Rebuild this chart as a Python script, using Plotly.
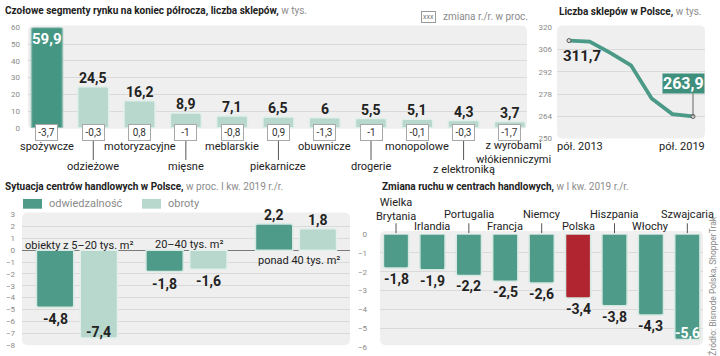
import plotly.graph_objects as go

W, H = 720, 356
def X(p): return p / W
def Y(p): return 1 - p / H

# ---------------- data ----------------
seg_categories = ["spożywcze", "odzieżowe", "motoryzacyjne", "mięsne", "meblarskie",
                  "piekarnicze", "obuwnicze", "drogerie", "monopolowe", "z elektroniką",
                  "z wyrobami<br>włókienniczymi"]
seg_values = [59.9, 24.5, 16.2, 8.9, 7.1, 6.5, 6, 5.5, 5.1, 4.3, 3.7]
seg_change = [-3.7, -0.3, 0.8, -1, -0.8, 0.9, -1.3, -1, -0.1, -0.3, -1.7]

shop_periods = ["pół. 2013", "pół. 2014", "pół. 2015", "pół. 2016", "pół. 2017", "pół. 2018", "pół. 2019"]
shop_counts = [311.7, 311.1, 304.0, 296.1, 275.2, 265.4, 263.9]
shop_ticks = [250, 264, 278, 292, 306, 320]

mall_groups = ["obiekty z 5–20 tys. m²", "20–40 tys. m²", "ponad 40 tys. m²"]
mall_visits = [-4.8, -1.8, 2.2]
mall_turnover = [-7.4, -1.6, 1.8]

countries = ["Wielka<br>Brytania", "Irlandia", "Portugalia", "Francja", "Niemcy",
             "Polska", "Hiszpania", "Włochy", "Szwajcaria"]
traffic = [-1.8, -1.9, -2.2, -2.5, -2.6, -3.4, -3.8, -4.3, -5.6]

# ---------------- style ----------------
COND = "Roboto, sans-serif"
REG = "Roboto, sans-serif"
DARK = "#469684"
TEAL = "#4e9b89"
LIGHT = "#b8d8cd"
RED = "#b0252f"
BG = "#efefef"
GRID = "#dadada"
TICK = dict(size=8, color="#8a8a8a", family=REG)
TXT = "#222222"
VAL = 14
TITLE = 10
LBL = 11

def fmt(v):
    return ("%g" % v).replace(".", ",")

fig = go.Figure()
ann = []
shapes = []

def A(**kw):
    kw.setdefault("showarrow", False)
    kw.setdefault("xanchor", "center")
    kw.setdefault("yanchor", "middle")
    ann.append(kw)

def rrect(x0, y0, x1, y1, r, color):
    rx, ry = r / W, r / H
    a0, b0, a1, b1 = X(x0), Y(y1), X(x1), Y(y0)
    path = (f"M{a0+rx},{b0} L{a1-rx},{b0} Q{a1},{b0} {a1},{b0+ry} "
            f"L{a1},{b1-ry} Q{a1},{b1} {a1-rx},{b1} L{a0+rx},{b1} "
            f"Q{a0},{b1} {a0},{b1-ry} L{a0},{b0+ry} Q{a0},{b0} {a0+rx},{b0} Z")
    shapes.append(dict(type="path", path=path, xref="paper", yref="paper",
                       fillcolor=color, line=dict(width=0), layer="below"))

# backgrounds
rrect(28, 22, 527, 128, 6, BG)
rrect(557, 22, 705, 138, 6, BG)
rrect(22, 214, 350, 350, 6, BG)
rrect(380, 233, 703, 350, 6, BG)

# ---------------- panel 1 ----------------
n1 = len(seg_values)
xs1 = list(range(n1))
fig.add_trace(go.Bar(
    x=xs1, y=seg_values, width=0.67, xaxis="x", yaxis="y",
    marker=dict(color=[DARK] + [LIGHT] * (n1 - 1),
                line=dict(color=["#8fbfb3"] + ["#e2efeb"] * (n1 - 1), width=1.5),
                cornerradius=2),
    hoverinfo="skip", showlegend=False))

for i, v in enumerate(seg_values):
    if i == 0:
        A(x=i, y=v, xref="x", yref="y", text="<b>" + fmt(v) + "</b>", yshift=-11,
          font=dict(family=COND, size=VAL + 1, color="white"))
    else:
        A(x=i, y=v, xref="x", yref="y", text="<b>" + fmt(v) + "</b>", yshift=9,
          font=dict(family=COND, size=VAL, color=TXT))
    A(x=i, y=Y(132), xref="x", yref="paper", text=fmt(seg_change[i]),
      bgcolor="white", bordercolor="#a8a8a8", borderwidth=1, borderpad=1, width=19, height=13,
      font=dict(family=REG, size=10, color="#333"))
    if i % 2 == 0:
        multi = "<br>" in seg_categories[i]
        A(x=i, y=Y(152 if multi else 146), xref="x", yref="paper", text=seg_categories[i],
          xshift=4 if multi else 0, font=dict(family=REG, size=LBL, color=TXT))
    else:
        nxt_multi = i + 1 < n1 and "<br>" in seg_categories[i + 1]
        A(x=i, y=Y(170 if nxt_multi else 167), xref="x", yref="paper", text=seg_categories[i],
          font=dict(family=REG, size=LBL, color=TXT))
        shapes.append(dict(type="line", x0=i, x1=i, y0=Y(140), y1=Y(160),
                           xref="x", yref="paper", line=dict(color="#555", width=1)))

A(x=X(3), y=Y(7), xref="paper", yref="paper", xanchor="left",
  text="<b>Czołowe segmenty rynku na koniec półrocza, liczba sklepów,</b> "
       "<span style='color:#8c8c8c'>w tys.</span>",
  font=dict(family=COND, size=TITLE, color=TXT))
A(x=X(428), y=Y(13), xref="paper", yref="paper", text="xxx",
  bordercolor="#999", borderwidth=1, borderpad=1, bgcolor="white",
  font=dict(family=REG, size=7, color="#777"))
A(x=X(441), y=Y(13), xref="paper", yref="paper", xanchor="left",
  text="zmiana r./r. w proc.", font=dict(family=REG, size=10, color="#8a8a8a"))

# ---------------- panel 2 ----------------
xs2 = list(range(len(shop_counts)))
fig.add_trace(go.Scatter(x=xs2, y=shop_counts, mode="lines", xaxis="x2", yaxis="y2",
                         line=dict(color="#4a9a87", width=3.8), hoverinfo="skip",
                         showlegend=False))
fig.add_trace(go.Scatter(x=[xs2[0], xs2[-1]], y=[shop_counts[0], shop_counts[-1]],
                         mode="markers", xaxis="x2", yaxis="y2",
                         marker=dict(size=4, color="#e0e0e0", line=dict(color="#555", width=1)),
                         hoverinfo="skip", showlegend=False))
A(x=xs2[0], y=shop_counts[0], xref="x2", yref="y2",
  text="<b>" + fmt(shop_counts[0]) + "</b>", xshift=13, yshift=-15,
  font=dict(family=COND, size=VAL + 1, color=TXT))
A(x=xs2[-1], y=shop_counts[-1], xref="x2", yref="y2",
  text="<b>" + fmt(shop_counts[-1]) + "</b>", xshift=-10, yshift=33,
  bgcolor="#3f8f7d", borderpad=0, font=dict(family=COND, size=VAL + 2, color="white"))
shapes.append(dict(type="line", x0=xs2[-1], x1=xs2[-1], y0=shop_counts[-1],
                   y1=shop_counts[-1] + 14.5, xref="x2", yref="y2",
                   line=dict(color="#666", width=1)))
A(x=xs2[0], y=Y(146), xref="x2", yref="paper", text=shop_periods[0], xshift=11,
  font=dict(family=REG, size=LBL, color=TXT))
A(x=xs2[-1], y=Y(146), xref="x2", yref="paper", text=shop_periods[-1], xshift=-11,
  font=dict(family=REG, size=LBL, color=TXT))
A(x=X(557), y=Y(8), xref="paper", yref="paper", xanchor="left",
  text="<b>Liczba sklepów w Polsce,</b> <span style='color:#8c8c8c'>w tys.</span>",
  font=dict(family=COND, size=TITLE, color=TXT))

# ---------------- panel 3 ----------------
xs3 = list(range(len(mall_groups)))
fig.add_trace(go.Bar(x=xs3, y=mall_visits, width=0.34, offset=-0.37, xaxis="x3", yaxis="y3",
                     marker=dict(color=TEAL, line=dict(color="#d5e8e2", width=1.5), cornerradius=2),
                     hoverinfo="skip", showlegend=False))
fig.add_trace(go.Bar(x=xs3, y=mall_turnover, width=0.34, offset=0.03, xaxis="x3", yaxis="y3",
                     marker=dict(color=LIGHT, line=dict(color="#e2efeb", width=1.5), cornerradius=2),
                     hoverinfo="skip", showlegend=False))
for i in xs3:
    for v, dx in ((mall_visits[i], -0.2), (mall_turnover[i], 0.2)):
        if v >= 0:
            ys = 9
        elif v < -6:
            ys = 6
        else:
            ys = -12
        A(x=i + dx, y=v, xref="x3", yref="y3", text="<b>" + fmt(v) + "</b>",
          yshift=ys, font=dict(family=COND, size=VAL, color=TXT))
grp_y = [248, 247, 263]
for i, g in enumerate(mall_groups):
    A(x=i, y=Y(grp_y[i]), xref="x3", yref="paper", text=g, xshift=3,
      font=dict(family=REG, size=LBL, color=TXT))
A(x=X(3), y=Y(188), xref="paper", yref="paper", xanchor="left",
  text="<b>Sytuacja centrów handlowych w Polsce,</b> "
       "<span style='color:#8c8c8c'>w proc. I kw. 2019 r./r.</span>",
  font=dict(family=COND, size=TITLE, color=TXT))
shapes.append(dict(type="rect", x0=X(23), x1=X(42), y0=Y(210), y1=Y(200), xref="paper",
                   yref="paper", fillcolor=TEAL, line=dict(width=0)))
shapes.append(dict(type="rect", x0=X(142), x1=X(161), y0=Y(210), y1=Y(200), xref="paper",
                   yref="paper", fillcolor=LIGHT, line=dict(width=0)))
A(x=X(47), y=Y(205), xref="paper", yref="paper", xanchor="left",
  text="odwiedzalność", font=dict(family=REG, size=11, color="#8a8a8a"))
A(x=X(166), y=Y(205), xref="paper", yref="paper", xanchor="left",
  text="obroty", font=dict(family=REG, size=11, color="#8a8a8a"))

# ---------------- panel 4 ----------------
xs4 = list(range(len(countries)))
fig.add_trace(go.Bar(x=xs4, y=traffic, width=0.69, xaxis="x4", yaxis="y4",
                     marker=dict(color=[RED if c == "Polska" else TEAL for c in countries],
                                 line=dict(color="#d5e8e2", width=1.5), cornerradius=2),
                     hoverinfo="skip", showlegend=False))
for i, v in enumerate(traffic):
    if i == len(traffic) - 1:
        A(x=i, y=v, xref="x4", yref="y4", text="<b>" + fmt(v) + "</b>", yshift=7,
          font=dict(family=COND, size=VAL, color="white"))
    else:
        A(x=i, y=v, xref="x4", yref="y4", text="<b>" + fmt(v) + "</b>", yshift=-11,
          font=dict(family=COND, size=VAL, color=TXT))
    base = 225 if i % 2 == 0 else 237
    if "<br>" in countries[i]:
        base = 227
    A(x=i, y=Y(base), xref="x4", yref="paper", text=countries[i], yanchor="bottom",
      font=dict(family=REG, size=LBL, color=TXT))
    if i % 2 == 0:
        shapes.append(dict(type="line", x0=i, x1=i, y0=Y(225), y1=Y(235),
                           xref="x4", yref="paper", line=dict(color="#555", width=1)))
A(x=X(380), y=Y(188), xref="paper", yref="paper", xanchor="left",
  text="<b>Zmiana ruchu w centrach handlowych,</b> "
       "<span style='color:#8c8c8c'>w I kw. 2019 r./r.</span>",
  font=dict(family=COND, size=TITLE, color=TXT))
A(x=X(713), y=Y(290), xref="paper", yref="paper", textangle=-90,
  text="Źródło: Bisnode Polska, ShopperTrak",
  font=dict(family=REG, size=8.5, color="#8a8a8a"))

# ---------------- axes ----------------
hid = dict(visible=False, showgrid=False, zeroline=False, fixedrange=True)
fig.update_layout(
    width=W, height=H, margin=dict(l=0, r=0, t=0, b=0),
    paper_bgcolor="white", plot_bgcolor="rgba(0,0,0,0)",
    barmode="overlay", showlegend=False,
    xaxis=dict(domain=[X(28), X(527)], range=[-0.41, 10.37], anchor="y", **hid),
    yaxis=dict(domain=[Y(127), Y(24)], range=[0, 60], tickvals=[0, 10, 20, 30, 40, 50, 60],
               anchor="x", showgrid=True, gridcolor=GRID, zeroline=False, tickfont=TICK,
               ticks="", ticklabelstandoff=7),
    xaxis2=dict(domain=[X(557), X(705)], range=[-0.58, 6.58], anchor="y2", **hid),
    yaxis2=dict(domain=[Y(138), Y(24)], range=[250, 320], tickvals=shop_ticks,
                anchor="x2", showgrid=True, gridcolor=GRID, zeroline=False, tickfont=TICK,
                ticks="", ticklabelstandoff=4),
    xaxis3=dict(domain=[X(22), X(350)], range=[-0.502, 2.493], anchor="y3", **hid),
    yaxis3=dict(domain=[Y(350), Y(216)], range=[-8, 3], dtick=1, anchor="x3",
                showgrid=True, gridcolor=GRID, zeroline=True, zerolinecolor="#7a7a7a",
                zerolinewidth=1, tickfont=TICK, ticks="", ticklabelstandoff=6),
    xaxis4=dict(domain=[X(380), X(703)], range=[-0.44, 8.43], anchor="y4", **hid),
    yaxis4=dict(domain=[Y(352), Y(236)], range=[-6, 0], dtick=1, anchor="x4",
                showgrid=True, gridcolor=GRID, zeroline=False, tickfont=TICK,
                ticks="", ticklabelstandoff=12),
    annotations=ann, shapes=shapes,
)

fig.write_html("out.html", config={"displayModeBar": False},
               post_script="document.body.style.margin='0';")
